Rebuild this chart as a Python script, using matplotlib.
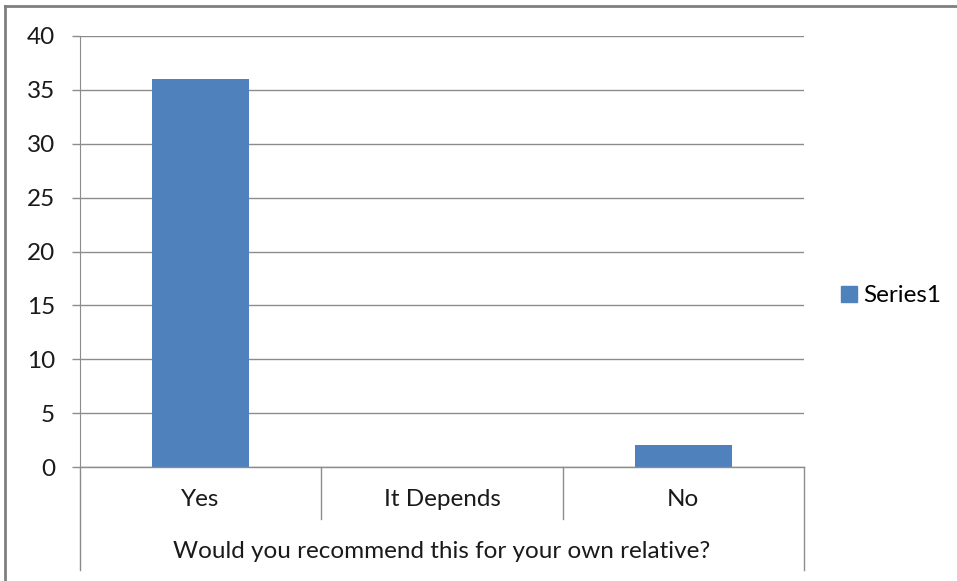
import numpy as np
import matplotlib
matplotlib.use("Agg")
import matplotlib.pyplot as plt
from matplotlib.lines import Line2D
from matplotlib.patches import Patch

categories = ["Yes", "It Depends", "No"]
values = [36, 0, 2]
series_name = "Series1"
axis_title = "Would you recommend this for your own relative?"
y_ticks = [0, 5, 10, 15, 20, 25, 30, 35, 40]

W, H = 957, 581
BAR = "#4F81BD"
GRID = "#8C8C8C"
FS = 17.5

plt.rcParams["font.family"] = ["Lato", "DejaVu Sans"]

fig = plt.figure(figsize=(W / 100, H / 100), dpi=100)


def px(x0, y0, x1, y1):
    # pixel box -> figure fractions [left, bottom, width, height]
    return [x0 / W, 1 - y1 / H, (x1 - x0) / W, (y1 - y0) / H]


ax = fig.add_axes(px(80, 36, 804, 467))
x = np.arange(len(categories)) + 0.5
ax.bar(x, values, width=0.4, color=BAR, zorder=3)
ax.set_xlim(0, len(categories))
ax.set_ylim(0, 40)
ax.set_yticks(y_ticks)
ax.grid(axis="y", color=GRID, linewidth=1.0, zorder=0)
ax.set_xticks([])
for s in ["top", "right", "bottom"]:
    ax.spines[s].set_visible(False)
ax.spines["left"].set_color(GRID)
ax.tick_params(axis="y", length=6, width=1, color=GRID, pad=12,
               labelsize=FS, labelcolor="#1a1a1a")

# category axis: baseline, dividers and two label levels
trans = ax.get_xaxis_transform()
y_div = (467 - 519) / 431
y_end = (467 - 570) / 431
ax.add_line(Line2D([0, len(categories)], [0, 0], transform=trans, color=GRID,
                   lw=1.0, clip_on=False, zorder=4))
for b in range(1, len(categories)):
    ax.add_line(Line2D([b, b], [0, y_div], transform=trans, color=GRID,
                       lw=1.0, clip_on=False))
for b in [0, len(categories)]:
    ax.add_line(Line2D([b, b], [0, y_end], transform=trans, color=GRID,
                       lw=1.0, clip_on=False))
for xi, c in zip(x, categories):
    ax.text(xi, (467 - 500) / 431, c, transform=trans, ha="center",
            va="center", fontsize=FS, color="#1a1a1a")
ax.text(len(categories) / 2, (467 - 552) / 431, axis_title, transform=trans,
        ha="center", va="center", fontsize=FS, color="#1a1a1a")

# legend
fig.legend(handles=[Patch(color=BAR, label=series_name)],
           loc="center left", bbox_to_anchor=(829 / W, 1 - 296 / H),
           frameon=False, fontsize=FS, handlelength=0.65, handleheight=0.65,
           handletextpad=0.25, borderpad=0)

# outer chart border (top and left visible)
fig.add_artist(Line2D([5 / W, 1], [1 - 6 / H, 1 - 6 / H], color="#7F7F7F", lw=2))
fig.add_artist(Line2D([5 / W, 5 / W], [0, 1 - 6 / H], color="#7F7F7F", lw=2))

fig.savefig("out.png", dpi=100)
